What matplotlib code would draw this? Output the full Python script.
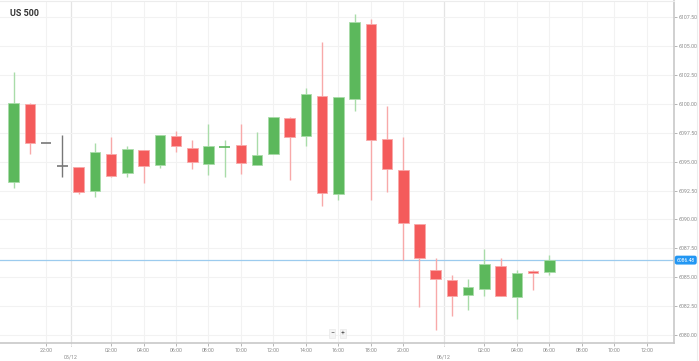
import numpy as np
import matplotlib
matplotlib.use("Agg")
import matplotlib.pyplot as plt
from matplotlib.ticker import FixedLocator, FormatStrFormatter

plt.rcParams['font.family'] = ['Roboto', 'DejaVu Sans']

title = 'US 500'

# hourly candles
opens = [6093.2, 6100.0, 6096.6, 6094.6, 6094.5, 6092.5, 6095.7, 6094.0, 6096.0, 6094.7,
         6097.2, 6096.2, 6094.8, 6096.28, 6096.45, 6094.75, 6095.7, 6098.75, 6097.2, 6100.7,
         6092.2, 6100.45, 6106.95, 6097.0, 6094.25, 6089.6, 6085.65, 6084.75, 6083.5, 6084.0,
         6086.0, 6083.25, 6085.5, 6085.48]
closes = [6100.05, 6096.6, 6096.6, 6094.6, 6092.35, 6095.85, 6093.8, 6096.1, 6094.6, 6097.35,
          6096.35, 6094.95, 6096.35, 6096.32, 6094.85, 6095.6, 6098.85, 6097.1, 6100.85, 6092.3,
          6100.6, 6107.05, 6096.85, 6094.35, 6089.7, 6086.65, 6084.85, 6083.4, 6084.15, 6086.1,
          6083.4, 6085.35, 6085.35, 6086.48]
highs = [6102.8, 6100.05, 6096.6, 6097.3, 6094.55, 6096.6, 6097.1, 6096.35, 6096.05, 6097.35,
         6097.65, 6096.9, 6098.3, 6096.9, 6098.3, 6097.6, 6098.85, 6098.9, 6101.35, 6105.35,
         6100.6, 6107.8, 6107.35, 6099.8, 6097.1, 6089.6, 6086.65, 6085.15, 6084.85, 6087.4,
         6086.65, 6085.65, 6085.65, 6086.9]
lows = [6092.7, 6095.65, 6096.6, 6093.65, 6092.2, 6091.9, 6093.65, 6093.65, 6093.15, 6094.45,
        6095.85, 6094.4, 6093.85, 6093.65, 6093.9, 6094.75, 6095.7, 6093.4, 6096.4, 6091.15,
        6091.7, 6099.4, 6091.7, 6092.4, 6086.5, 6082.45, 6080.45, 6081.65, 6082.15, 6083.4,
        6083.4, 6081.4, 6083.9, 6085.15]
last_price = 6086.48

tick_pos = [2, 6, 8, 10, 12, 14, 16, 18, 20, 22, 24, 29, 31, 33, 35, 37, 39]
tick_labels = ['22:00', '02:00', '04:00', '06:00', '08:00', '10:00', '12:00', '14:00', '16:00',
               '18:00', '20:00', '02:00', '04:00', '06:00', '08:00', '10:00', '12:00']
date_pos = [3.5, 26.5]
date_labels = ['05/12', '06/12']
price_ticks = np.arange(6080.0, 6108.0, 2.5)

GREEN = '#5cb85c'
GREEN_W = '#a9dca9'
RED = '#f45b5b'
RED_W = '#f8a9a9'
GREY = '#777777'

fig = plt.figure(figsize=(6.99, 3.61), dpi=100)
ax = fig.add_axes([0, 18.3 / 361, 674 / 699, 341.7 / 361])

idx = np.arange(len(opens))
w = 0.65
for i, o, c, h, l in zip(idx, opens, closes, highs, lows):
    if c > o:
        col, wc = GREEN, GREEN_W
    elif c < o:
        col, wc = RED, RED_W
    else:
        col, wc = GREY, GREY
    ax.vlines(i, l, h, color=wc, lw=1, zorder=2)
    if abs(c - o) < 0.1:
        ax.hlines(o, i - w / 2, i + w / 2, color=col, lw=1.2, zorder=3)
    else:
        ax.bar(i, abs(c - o), bottom=min(o, c), width=w, color=col,
               edgecolor=wc, linewidth=0.6, zorder=3)

ax.axhline(last_price, color='#9ccbee', lw=0.9, zorder=1)

for d in date_pos:
    ax.axvline(d, color='#e4e4e4', lw=0.9, zorder=0)

ax.set_xlim(-0.844, 40.68)
ax.set_ylim(6079.33, 6108.91)

ax.xaxis.set_major_locator(FixedLocator(tick_pos))
ax.set_xticklabels(tick_labels)
ax.yaxis.tick_right()
ax.yaxis.set_major_locator(FixedLocator(price_ticks))
ax.yaxis.set_major_formatter(FormatStrFormatter('%.2f'))
ax.tick_params(axis='both', labelsize=3.8, colors='#999999', length=2, width=0.5, pad=1)
ax.tick_params(axis='y', labelcolor='#8a8a8a')
ax.tick_params(axis='x', labelcolor='#8a8a8a', pad=2)
ax.grid(True, color='#f2f2f2', lw=0.8, zorder=0)
ax.set_axisbelow(True)

for s in ['left']:
    ax.spines[s].set_visible(False)
ax.spines['top'].set_color('#ececec')
ax.spines['right'].set_color('#c8c8c8')
ax.spines['bottom'].set_color('#c8c8c8')
ax.spines['right'].set_linewidth(1.2)
ax.spines['bottom'].set_linewidth(1.2)

trans = ax.get_xaxis_transform()
for d, lab in zip(date_pos, date_labels):
    ax.plot([d, d], [0, -0.012], transform=trans, color='#aaaaaa', lw=0.6, ls=':', clip_on=False)
    ax.text(d, -0.035, lab, transform=trans, ha='center', va='top', fontsize=3.8,
            color='#8a8a8a', clip_on=False)

ax.text(1.004, last_price, '%.2f' % last_price, transform=ax.get_yaxis_transform(),
        ha='left', va='center', fontsize=3.6, color='white', clip_on=False, zorder=5,
        bbox=dict(boxstyle='round,pad=0.25,rounding_size=0.3', fc='#2196f3', ec='#2196f3'))

fig.text(10 / 699, 1 - 13 / 361, title, ha='left', va='center', fontsize=6.5,
         fontweight='bold', color='#333333')

for xp, s in [(332, '\u2212'), (343, '+')]:
    fig.text(xp / 699, 1 - 333.5 / 361, s, ha='center', va='center', fontsize=5,
             color='#555555',
             bbox=dict(boxstyle='square,pad=0.15', fc='#f4f4f4', ec='#e6e6e6', lw=0.4))

fig.add_artist(plt.Line2D([697 / 699, 697 / 699], [0, 1], color='#ededed', lw=0.8))

fig.savefig('out.png', dpi=100)
